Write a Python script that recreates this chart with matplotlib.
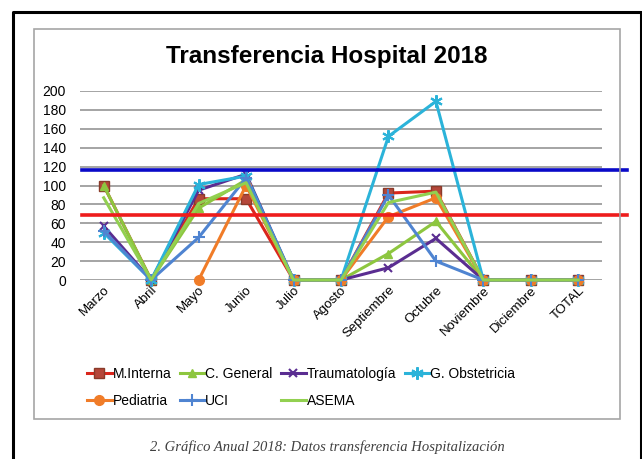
import matplotlib.pyplot as plt
import numpy as np
from matplotlib.lines import Line2D
from matplotlib.patches import Rectangle

nan = np.nan

meses = ["Marzo", "Abril", "Mayo", "Junio", "Julio", "Agosto", "Septiembre",
         "Octubre", "Noviembre", "Diciembre", "TOTAL"]

m_interna = [100, 0, 86, 86, 0, 0, 92, 94, 0, 0, 0]
c_general = [100, 0, 76, 106, 0, 0, 28, 62, 0, 0, 0]
traumatologia = [57, 0, 95, 112, 0, 0, 13, 44, 0, 0, 0]
g_obstetricia = [50, 0, 101, 110, 0, 0, 152, 189, 0, 0, 0]
pediatria = [nan, nan, 0, 100, 0, 0, 67, 87, 0, 0, 0]
uci = [52, 0, 45, 108, 0, 0, 90, 20, 0, 0, 0]
asema = [87, 0, 81, 103, 0, 0, 82, 93, 0, 0, 0]

limite_azul = 116
limite_rojo = 69

plt.rcParams['font.family'] = ['Liberation Sans', 'DejaVu Sans']

fig = plt.figure(figsize=(6.42, 4.59), dpi=100)
W, H = 642, 459

# marcos
fig.add_artist(Line2D([13 / W, 13 / W, 641 / W, 641 / W], [0, 1 - 12 / H, 1 - 12 / H, 0],
                      color='black', lw=2.2, transform=fig.transFigure))
fig.add_artist(Rectangle((34 / W, 1 - 419 / H), (620 - 34) / W, (419 - 29) / H,
                         fill=False, edgecolor='#A6A6A6', lw=1.2, transform=fig.transFigure))

ax = fig.add_axes([80 / W, 1 - 280 / H, (602 - 80) / W, (280 - 91) / H])

x = np.arange(len(meses))
series = [
    ("M.Interna", m_interna, dict(color='#D9261C', marker='s', ms=7, mfc='#B5473A', mec='#8A3B2A')),
    ("C. General", c_general, dict(color='#8DC63F', marker='^', ms=6, mfc='#8DC63F', mec='#8DC63F')),
    ("Traumatología", traumatologia, dict(color='#5A2D91', marker='x', ms=6, mew=1.5)),
    ("G. Obstetricia", g_obstetricia, dict(color='#2BB3D9', marker=(6, 2, 0), ms=9, mew=1.5)),
    ("Pediatria", pediatria, dict(color='#F07C28', marker='o', ms=7)),
    ("UCI", uci, dict(color='#4F84D1', marker='+', ms=8, mew=1.5)),
    ("ASEMA", asema, dict(color='#92D050')),
]

handles = {}
for nombre, vals, st in series:
    ln, = ax.plot(x, vals, lw=2.2, clip_on=False, label=nombre, **st)
    handles[nombre] = ln

ax.axhline(limite_azul, xmin=0.004, xmax=(627 - 80) / (602 - 80), color='#0A0AC8',
           lw=2.6, clip_on=False, zorder=5)
ax.axhline(limite_rojo, xmin=0.004, xmax=(627 - 80) / (602 - 80), color='#EE1C1C',
           lw=2.6, clip_on=False, zorder=5)

ax.set_xlim(-0.5, len(meses) - 0.5)
ax.set_ylim(0, 200)
ax.set_yticks(np.arange(0, 201, 20))
ax.grid(axis='y', color='#8C8C8C', lw=1.1)
ax.set_axisbelow(True)
for s in ax.spines.values():
    s.set_visible(False)
ax.tick_params(length=0, labelsize=9.5, colors='black')
ax.tick_params(axis='y', pad=10, labelsize=10)
ax.set_xticks(x)
ax.set_xticklabels(meses, rotation=45, ha='right', rotation_mode='anchor')
ax.tick_params(axis='x', pad=3)

fig.text(327 / W, 1 - 57 / H, "Transferencia Hospital 2018", fontsize=17.5,
         fontweight='bold', ha='center', va='center')

orden = ["M.Interna", "Pediatria", "C. General", "UCI", "Traumatología", "ASEMA", "G. Obstetricia"]
leg = ax.legend([handles[n] for n in orden], orden, ncol=4, frameon=False, fontsize=10,
                loc='center', bbox_to_anchor=((301 - 80) / (602 - 80), -0.57),
                handlelength=1.8, handletextpad=0.05, columnspacing=0.6, labelspacing=0.95)

fig.text(327 / W, 1 - 447 / H, "2. Gráfico Anual 2018: Datos transferencia Hospitalización",
         ha='center', va='center', fontsize=10.5, style='italic', color='#404040',
         family=['Liberation Serif', 'DejaVu Serif'])

fig.savefig("out.png", dpi=100)
